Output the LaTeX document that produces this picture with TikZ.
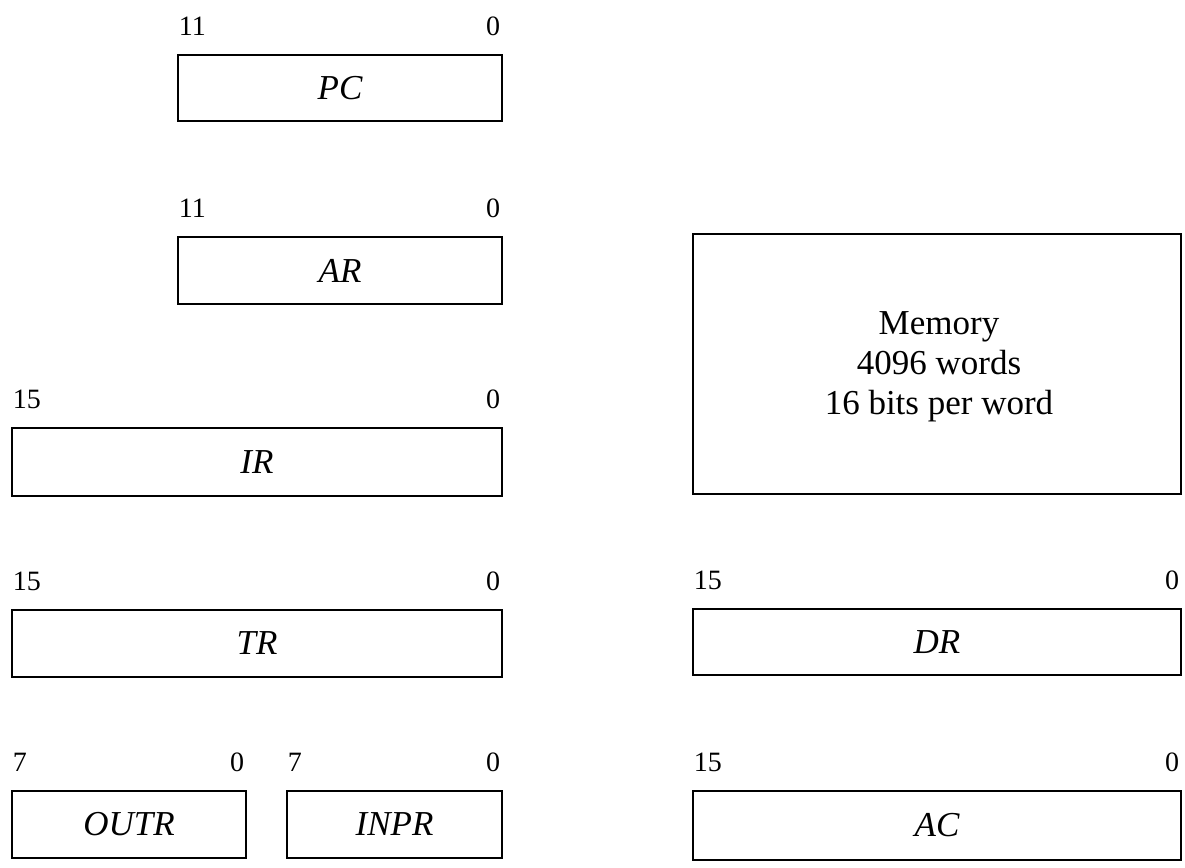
\documentclass[tikz,border=0pt]{standalone}
\usepackage{fontspec}
\setmainfont{Liberation Serif}
\begin{document}
\begin{tikzpicture}[x=1pt,y=-1pt,
  reg/.style={draw, line width=2.8pt, rectangle, inner sep=0pt,
    font=\fontsize{35}{38}\selectfont\itshape},
  bitlbl/.style={inner sep=0pt, font=\fontsize{28}{30}\selectfont},
  memtext/.style={inner sep=0pt, align=center, font=\fontsize{35}{40}\selectfont}]
\useasboundingbox (0,0) rectangle (1185,867);
% registers (centre, width, height)
\node[reg, minimum width=324pt, minimum height=66pt] (pc) at (340,88) {PC};
\node[reg, minimum width=324pt, minimum height=67pt] (ar) at (340,270.5) {AR};
\node[reg, minimum width=490pt, minimum height=68pt] (ir) at (257,462) {IR};
\node[reg, minimum width=490pt, minimum height=67pt] (tr) at (257,643.5) {TR};
\node[reg, minimum width=234pt, minimum height=67pt] (outr) at (129,824.5) {OUTR};
\node[reg, minimum width=215pt, minimum height=67pt] (inpr) at (394.5,824.5) {INPR};
\node[reg, minimum width=488pt, minimum height=260pt] (mem) at (937,364) {};
\node[memtext] (memlbl) at (939,367) {Memory\\4096 words\\16 bits per word};
\node[reg, minimum width=488pt, minimum height=66pt] (dr) at (937,642) {DR};
\node[reg, minimum width=488pt, minimum height=69pt] (ac) at (937,825.5) {AC};
% bit numbers
\foreach \r/\hi in {pc/11, ar/11, ir/15, tr/15, outr/7, inpr/7, dr/15, ac/15}{
  \node[bitlbl, anchor=base west] (\r-hi) at ([xshift=2pt,yshift=18pt]\r.north west) {\hi};
  \node[bitlbl, anchor=base east] (\r-lo) at ([xshift=-3pt,yshift=18pt]\r.north east) {0};
}
\end{tikzpicture}
\end{document}
